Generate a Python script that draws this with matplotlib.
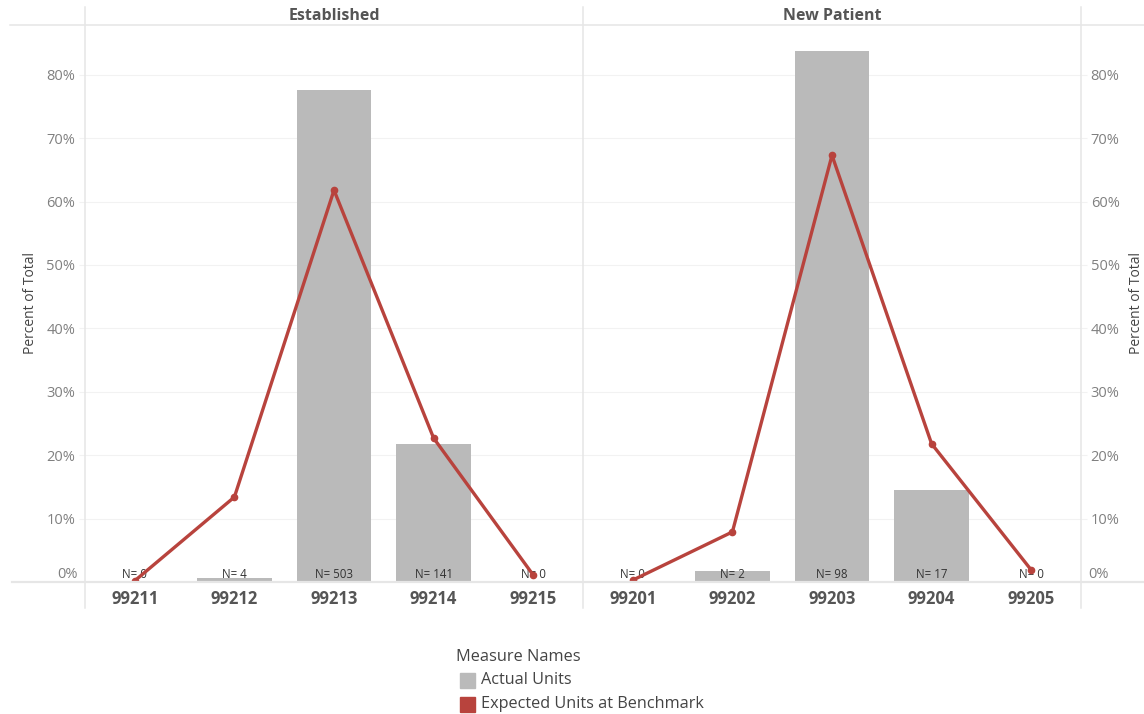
import numpy as np
import matplotlib.pyplot as plt
from matplotlib.lines import Line2D
from matplotlib.patches import Rectangle
from matplotlib.ticker import PercentFormatter

plt.rcParams['font.family'] = ['Open Sans', 'DejaVu Sans']

panels = ['Established', 'New Patient']
codes = [['99211', '99212', '99213', '99214', '99215'],
         ['99201', '99202', '99203', '99204', '99205']]
counts = [[0, 4, 503, 141, 0],
          [0, 2, 98, 17, 0]]
# expected share of units at benchmark, percent
expected = [[0.2, 13.4, 61.8, 22.7, 1.1],
            [0.3, 7.9, 67.3, 21.8, 1.9]]

bar_color = '#bababa'
line_color = '#b8433d'
grid_color = '#e6e6e6'
text_grey = '#808080'
dark_grey = '#555555'

W, H = 1144, 714
fig = plt.figure(figsize=(W / 100, H / 100), dpi=100)

def fx(px):
    return px / W

def fy(py):
    return 1 - py / H

x0, xmid, x1 = 85, 583, 1081
ytop, ybase = 25, 582
ymax = 87.85

axes = []
for i, (name, cds, cnt, exp) in enumerate(zip(panels, codes, counts, expected)):
    left = [x0, xmid][i]
    ax = fig.add_axes([fx(left), fy(ybase), fx(xmid - x0), fy(ytop) - fy(ybase)])
    axes.append(ax)
    cnt = np.array(cnt)
    pct = cnt / cnt.sum() * 100
    x = np.arange(len(cds))
    ax.bar(x, pct, width=0.75, color=bar_color, zorder=2)
    ax.plot(x, exp, color=line_color, lw=2.4, marker='o', ms=4.5, zorder=4,
            solid_capstyle='round')
    for xi, n in zip(x, cnt):
        ax.text(xi, 0.1, f'N= {n}', ha='center', va='bottom', fontsize=8.3,
                color='#333333', zorder=3)
    ax.set_xlim(-0.5, len(cds) - 0.5)
    ax.set_ylim(0, ymax)
    ax.set_yticks(np.arange(10, 81, 10))
    ax.yaxis.set_major_formatter(PercentFormatter(decimals=0))
    ax.grid(axis='y', color='#f2f2f2', lw=0.8, zorder=0)
    ax.set_xticks(x)
    ax.set_xticklabels(cds, fontsize=12, fontweight='bold', color=dark_grey)
    ax.tick_params(axis='x', length=0, pad=6)
    ax.tick_params(axis='y', length=4, color='#f2f2f2', labelsize=10.5,
                   labelcolor=text_grey, pad=3)
    for s in ax.spines.values():
        s.set_visible(False)
    ax.set_facecolor('none')
    fig.text(fx((left + left + xmid - x0) / 2), fy(16), name, ha='center',
             va='center', fontsize=11.5, fontweight='bold', color=dark_grey)

axes[0].yaxis.tick_left()
axes[1].yaxis.tick_right()

# 0% sits just above the baseline
fig.text(fx(78), fy(575), '0%', ha='right', va='center', fontsize=10.5, color=text_grey)
fig.text(fx(1088), fy(575), '0%', ha='left', va='center', fontsize=10.5, color=text_grey)

fig.text(fx(30), fy(303), 'Percent of Total', rotation=90, ha='center', va='center',
         fontsize=10, color='#444444')
fig.text(fx(1137), fy(303), 'Percent of Total', rotation=90, ha='center', va='center',
         fontsize=10, color='#444444')

# frame lines around the panels and header band
for xp in (x0, xmid, x1):
    fig.add_artist(Line2D([fx(xp)] * 2, [fy(7), fy(608)], color=grid_color, lw=1.1))
fig.add_artist(Line2D([fx(10), 1], [fy(ytop)] * 2, color=grid_color, lw=1.1))
fig.add_artist(Line2D([fx(12), 1], [fy(ybase)] * 2, color=grid_color, lw=1.6))

# legend
fig.text(fx(456), fy(657), 'Measure Names', ha='left', va='center',
         fontsize=11.8, color='#444444')
legend_items = [('Actual Units', bar_color), ('Expected Units at Benchmark', line_color)]
for k, (lab, col) in enumerate(legend_items):
    yc = 680 + k * 24.5
    fig.add_artist(Rectangle((fx(460), fy(yc + 7.5)), fx(15), fy(yc - 7.5) - fy(yc + 7.5),
                             color=col, transform=fig.transFigure))
    fig.text(fx(481), fy(yc), lab, ha='left', va='center', fontsize=11.7,
             color='#444444')

fig.savefig('out.png', dpi=100)
